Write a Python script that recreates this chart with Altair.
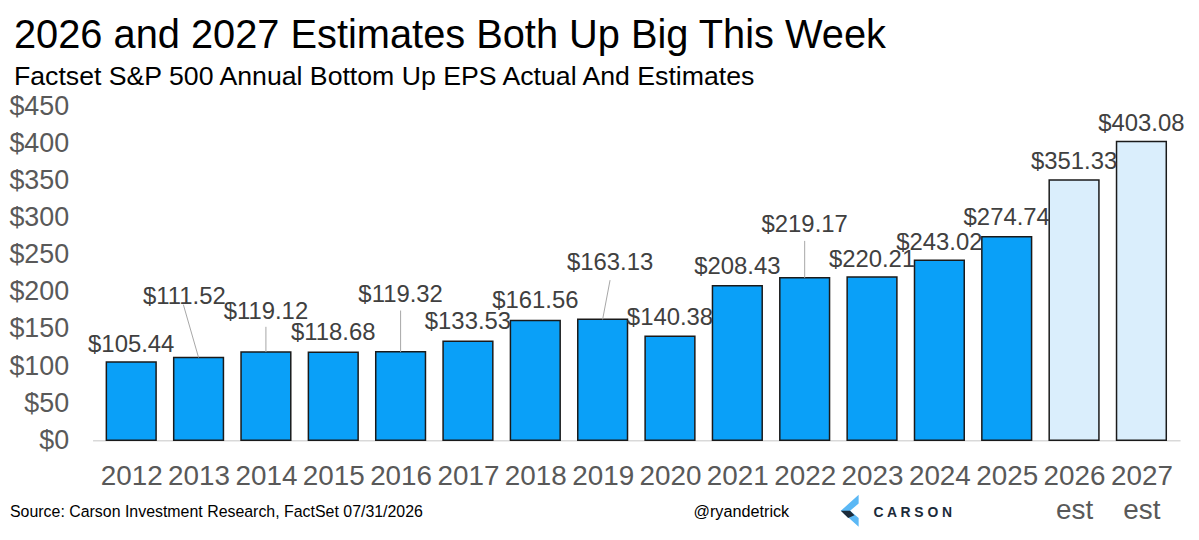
import altair as alt
import pandas as pd

# ---- data ----
years = ["2012", "2013", "2014", "2015", "2016", "2017", "2018", "2019",
         "2020", "2021", "2022", "2023", "2024", "2025", "2026", "2027"]
year_suffix = ["", "", "", "", "", "", "", "", "", "", "", "", "", "", "est", "est"]
eps = [105.44, 111.52, 119.12, 118.68, 119.32, 133.53, 161.56, 163.13,
       140.38, 208.43, 219.17, 220.21, 243.02, 274.74, 351.33, 403.08]
kind = ["Actual"] * 14 + ["Estimate"] * 2
# data-label anchor (in $ units) and horizontal nudge (in category units)
label_y = [129, 193.5, 173, 144, 196, 160, 188, 239, 165, 234, 290, 243, 266, 300, 375, 427]
label_dx = [0, -0.21, 0, 0, 0, 0, 0, 0.11, 0, 0, 0, 0, 0, 0, 0, 0]
# leader lines: category index of top / bottom, $ value of top / bottom
leader_x_top = [0.774, 2, 4, 7.11, 10]
leader_x_bot = [1, 2, 4, 7, 10]
leader_y_top = [183, 153, 175, 216, 269]
leader_y_bot = [111.5, 119, 119, 163, 219]
y_ticks = [0, 50, 100, 150, 200, 250, 300, 350, 400, 450]

df = pd.DataFrame({
    "idx": list(range(len(years))),
    "year": years,
    "eps": eps,
    "kind": kind,
    "label": ["$" + f"{v:.2f}" for v in eps],
    "lx": [i + d for i, d in enumerate(label_dx)],
    "ly": label_y,
})
leaders = pd.DataFrame({"x": leader_x_top, "x2": leader_x_bot,
                        "y": leader_y_top, "y2": leader_y_bot})

W, H = 1093, 335
FONT = "Liberation Sans, Arial, Helvetica, sans-serif"
GRAY = "#595959"

year_js = "[" + ",".join(f"'{y}'" for y in years) + "]"
suf_js = "[" + ",".join(f"'{s}'" for s in year_suffix) + "]"
x_label_expr = (f"{suf_js}[datum.value] == '' ? {year_js}[datum.value] : "
                f"[{year_js}[datum.value], {suf_js}[datum.value]]")

xscale = alt.Scale(domain=[-0.5, len(years) - 0.5], nice=False, zero=False)
yscale = alt.Scale(domain=[0, 450], nice=False, zero=True)

xaxis = alt.Axis(values=list(range(len(years))), labelExpr=x_label_expr,
                 labelFontSize=28, labelColor=GRAY, labelFont=FONT,
                 labelPadding=23, labelLineHeight=34, ticks=False, grid=False,
                 domainColor="#d9d9d9", domainWidth=1.5, labelFlush=False,
                 labelOverlap=False, labelBound=False, title=None)
yaxis = alt.Axis(values=y_ticks, labelExpr="'$' + datum.value", tickCount=10,
                 labelFontSize=27, labelColor=GRAY, labelFont=FONT,
                 labelPadding=24, ticks=False, grid=False, domain=False,
                 labelOverlap=False, labelFlush=False, labelBound=False, title=None)

base = alt.Chart(df)

bars = base.mark_bar(size=50, orient="vertical", stroke="#1a1a1a", strokeWidth=1.5).encode(
    x=alt.X("idx:Q", scale=xscale, axis=xaxis),
    y=alt.Y("eps:Q", scale=yscale, stack=None, axis=yaxis),
    color=alt.Color("kind:N", legend=None,
                    scale=alt.Scale(domain=["Actual", "Estimate"],
                                    range=["#0aa0f8", "#daeefc"])),
)

lead = alt.Chart(leaders).mark_rule(color="#a6a6a6", strokeWidth=1).encode(
    x=alt.X("x:Q", scale=xscale, axis=xaxis), x2="x2:Q",
    y=alt.Y("y:Q", scale=yscale, axis=yaxis), y2="y2:Q",
)

labels = base.mark_text(fontSize=24, font=FONT, color="#404040",
                        align="center", baseline="middle").encode(
    x=alt.X("lx:Q", scale=xscale, axis=xaxis),
    y=alt.Y("ly:Q", scale=yscale, axis=yaxis),
    text="label:N"
)

one = pd.DataFrame({"t": [0]})


def txt(s, x, y, size, color="black", weight="normal", align="left", font=FONT):
    return alt.Chart(one).mark_text(text=s, fontSize=size, color=color, font=font,
                                    fontWeight=weight, align=align,
                                    baseline="alphabetic").encode(
        x=alt.value(x), y=alt.value(y))


title = txt("2026 and 2027 Estimates Both Up Big This Week", -79, -59, 40)
subtitle = txt("Factset S&P 500 Annual Bottom Up EPS Actual And Estimates", -79, -22, 26.8)
source = txt("Source: Carson Investment Research, FactSet 07/31/2026", -83, 412, 16)
handle = txt("@ryandetrick", 604, 412, 16.3)
carson = txt("C A R S O N", 785, 412, 14, color="#1c2b3a", weight="bold")

chev_light = alt.Chart(one).mark_point(
    shape="M0.56,-1 L-0.56,0 L0.56,1 L0.56,0.45 L0.02,0 L0.56,-0.45 Z",
    size=1024, filled=True, color="#5bb8f5", opacity=1, strokeWidth=0
).encode(x=alt.value(761), y=alt.value(406))
chev_dark = alt.Chart(one).mark_point(
    shape="M-0.56,0 L0.02,0 L0.3,0.28 L-0.1,0.46 Z",
    size=1024, filled=True, color="#1c2b3a", opacity=1, strokeWidth=0
).encode(x=alt.value(761), y=alt.value(406))

chart = alt.layer(bars, lead, labels, title, subtitle, source, handle,
                  chev_light, chev_dark, carson).properties(
    width=W, height=H,
    background="white",
    autosize=alt.AutoSizeParams(type="none"),
    padding={"left": 85, "top": 98, "right": 11, "bottom": 92},
).configure_view(stroke=None)

chart.save("out.html", embed_options={"renderer": "svg", "actions": False})
